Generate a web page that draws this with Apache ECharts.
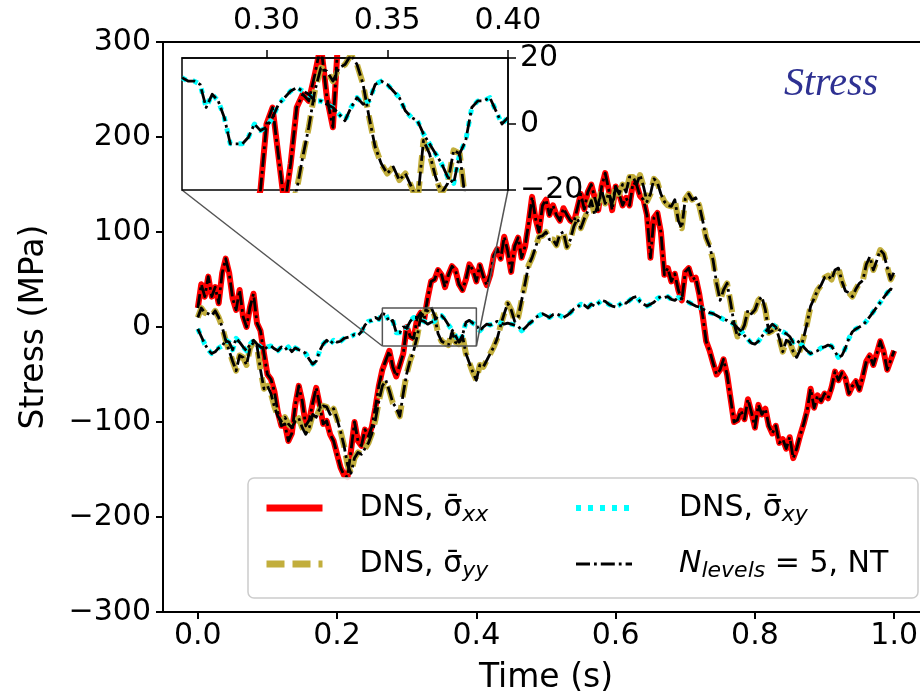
<!DOCTYPE html>
<html>
<head>
<meta charset="utf-8">
<script src="https://cdn.jsdelivr.net/npm/echarts@6/dist/echarts.min.js"></script>
<style>html,body{margin:0;padding:0;background:#fff}#c{width:920px;height:699px}</style>
</head>
<body>
<div id="c"></div>
<script>
// ---- data (main plot, sampled every 0.005 s from 0 to 1.0 s) ----
const timeStep = 0.005;
const sxx = [
 20, 45, 32, 53, 32, 42, 25, 57, 72, 57,
 30, 18, 39, 11, 0, 21, 35, 4, -4, -28,
 -50, -55, -68, -90, -104, -102, -120, -112, -82, -62,
 -78, -104, -98, -80, -64, -82, -102, -99, -113, -120,
 -134, -148, -156, -158, -130, -100, -120, -125, -108, -115,
 -105, -85, -62, -45, -35, -25, -42, -52, -40, -28,
 0, -10, -12, 9, 15, 8, 30, 48, 50, 60,
 55, 42, 55, 64, 60, 45, 39, 50, 66, 60,
 48, 65, 53, 44, 55, 75, 82, 72, 95, 80,
 58, 85, 94, 73, 85, 109, 137, 114, 100, 128,
 134, 118, 128, 118, 112, 125, 118, 112, 110, 125,
 140, 124, 142, 150, 136, 123, 148, 162, 145, 123,
 148, 140, 128, 136, 128, 152, 150, 138, 134, 118,
 73, 115, 120, 100, 55, 62, 48, 56, 39, 28,
 58, 62, 50, 52, 35, 12, -15, -25, -38, -50,
 -45, -34, -50, -75, -100, -98, -88, -97, -76, -90,
 -106, -82, -92, -86, -104, -112, -104, -122, -118, -128,
 -116, -138, -128, -114, -102, -88, -65, -85, -72, -78,
 -70, -75, -64, -47, -56, -48, -54, -70, -62, -57,
 -66, -52, -36, -30, -40, -28, -15, -26, -45, -35,
 -25
];
const syy = [
 10, 20, 15, 14, 12, 17, 10, 0, -14, -25,
 -36, -46, -30, -32, -40, -22, -16, -20, -45, -65,
 -62, -70, -84, -94, -99, -95, -102, -106, -99, -96,
 -106, -113, -106, -92, -95, -86, -83, -84, -92, -86,
 -97, -110, -125, -145, -154, -138, -132, -134, -128, -122,
 -112, -98, -78, -62, -56, -67, -80, -85, -94, -70,
 -49, -35, -25, -10, 10, 16, 17, 21, 12, -7,
 -15, -17, -19, -5, -16, -18, -9, -28, -38, -48,
 -56, -40, -42, -35, -28, -21, -12, 2, 14, 25,
 18, 6, 10, 28, 46, 65, 73, 84, 95, 96,
 100, 92, 92, 86, 98, 100, 84, 92, 106, 114,
 104, 114, 122, 133, 118, 130, 144, 130, 141, 130,
 148, 140, 150, 142, 158, 158, 150, 160, 148, 132,
 140, 156, 152, 140, 132, 128, 127, 134, 112, 104,
 135, 140, 134, 136, 128, 112, 94, 85, 70, 46,
 28, 39, 46, 26, 4, -10, -6, 2, 18, 14,
 18, 28, 32, 18, -6, -4, 0, -12, -26, -14,
 -16, -26, -32, -24, -11, 4, 22, 30, 39, 44,
 52, 54, 50, 60, 62, 48, 38, 36, 32, 40,
 46, 49, 66, 74, 60, 70, 81, 77, 63, 50,
 58
];
const sxy = [
 -2, -10, -18, -24, -28, -26, -22, -20, -14, -16,
 -24, -12, -16, -21, -25, -18, -14, -18, -21, -24,
 -21, -20, -23, -25, -21, -24, -21, -26, -22, -24,
 -25, -28, -34, -39, -36, -25, -18, -14, -18, -14,
 -16, -15, -12, -11, -10, -8, -9, -5, 2, 6,
 7, 10, 8, 14, 13, 5, 7, -6, -6, 0,
 -1, 6, 10, 10, 7, 6, 3, 5, 6, 12,
 12, 8, 2, -3, -9, -16, -9, 5, 7, 4,
 2, -4, 0, 3, 2, 4, 6, 4, 3, 4,
 3, 2, 1, -4, -1, 3, 6, 10, 12, 14,
 12, 10, 13, 14, 12, 10, 12, 15, 19, 21,
 24, 23, 20, 24, 22, 25, 28, 27, 24, 22,
 21, 23, 26, 25, 28, 31, 32, 27, 24, 22,
 24, 26, 30, 32, 31, 32, 29, 28, 31, 30,
 28, 26, 24, 22, 21, 19, 17, 15, 14, 12,
 10, 8, 7, 5, 3, -1, -4, -9, -13, -17,
 -18, -15, -10, -5, -1, 3, 0, -3, -5, -7,
 -10, -16, -14, -17, -21, -25, -28, -26, -25, -22,
 -21, -19, -20, -26, -32, -30, -22, -12, -5, -2,
 0, 2, 6, 11, 16, 21, 26, 31, 36, 40,
 38
];

// ---- data (inset, sampled every 0.0025 s from 0.265 to 0.40 s) ----
const insetStart = 0.265;
const insetStep = 0.0025;
const insetXX = [
 -45, -38, -35, -28, -25, -33, -42, -50, -52, -45,
 -40, -32, -28, -20, 0, 5, -10, -25, -12, 5,
 9, 7, 15, 24, 8, -1, 30, 45, 48, 50,
 50, 55, 60, 58, 55, 48, 42, 48, 55, 60,
 64, 62, 60, 52, 45, 42, 39, 45, 50, 58,
 66, 64, 60, 55, 48
];
const insetYY = [
 -62, -58, -56, -60, -67, -75, -80, -82, -85, -90,
 -94, -85, -70, -58, -49, -42, -35, -30, -25, -20,
 -10, -1, 10, 17, 16, 13, 17, 18, 21, 18,
 12, 2, -7, -12, -15, -13, -17, -15, -19, -24,
 -5, -9, -16, -21, -18, -8, -9, -24, -28, -32,
 -38, -42, -48, -52, -56
];
const insetXY = [
 14, 13, 13, 12, 5, 9, 7, 2, -6, -6,
 -6, -4, 0, -2, -1, 2, 6, 8, 10, 11,
 10, 9, 7, 7, 6, 5, 3, 1, 5, 8,
 6, 7, 12, 13, 12, 10, 8, 4, 2, 1,
 -3, -6, -9, -12, -16, -18, -9, -5, 5, 7,
 7, 8, 4, 0, 2
];

// ---- axes / ticks ----
const xTicks = [0.0, 0.2, 0.4, 0.6, 0.8, 1.0];
const xRange = [-0.05, 1.05];
const yRange = [-300, 300];
const yInterval = 100;
const insetXRange = [0.265, 0.40];
const insetYRange = [-20, 20];
const insetXTicks = [0.30, 0.35, 0.40];
const insetYInterval = 20;

const names = {
  xx: 'DNS, σ̄xx',
  yy: 'DNS, σ̄yy',
  xy: 'DNS, σ̄xy',
  nt: 'N_levels = 5, NT'
};

const mainTime = sxx.map((_, i) => +(i * timeStep).toFixed(4));
const insetTime = insetXX.map((_, i) => +(insetStart + i * insetStep).toFixed(4));
const pair = (ts, vs) => ts.map((t, i) => [t, vs[i]]);

const FONT = 'DejaVu Sans';
const minus = v => String(v).replace('-', '\u2212');

const styles = {
  xx: {color: '#ff0000', width: 6, type: 'solid'},
  yy: {color: '#c2ae3c', width: 6, type: [18, 8]},
  xy: {color: '#00ffff', width: 5, type: [5, 7]},
  nt: {color: '#000000', width: 2.8, type: [14, 4, 2.8, 4]}
};

function mk(name, key, data, axisIdx, z) {
  return {
    type: 'line', name: name, xAxisIndex: axisIdx, yAxisIndex: axisIdx,
    data: data, symbol: 'none', showSymbol: false, clip: true, z: z,
    color: styles[key].color,
    lineStyle: {color: styles[key].color, width: styles[key].width, type: styles[key].type, cap: 'butt', join: 'round'},
    emphasis: {disabled: true}, silent: true
  };
}

const series = [];
[[0, mainTime, sxx, syy, sxy, 2], [1, insetTime, insetXX, insetYY, insetXY, 8]].forEach(([ax, ts, a, b, c, z]) => {
  series.push(mk(names.xx, 'xx', pair(ts, a), ax, z));
  series.push(mk(names.yy, 'yy', pair(ts, b), ax, z));
  series.push(mk(names.xy, 'xy', pair(ts, c), ax, z));
  series.push(mk(names.nt, 'nt', pair(ts, a), ax, z + 1));
  series.push(mk(names.nt, 'nt', pair(ts, b), ax, z + 1));
  series.push(mk(names.nt, 'nt', pair(ts, c), ax, z + 1));
});
// zoom rectangle in the main axes
series.push({
  type: 'line', name: 'zoombox', xAxisIndex: 0, yAxisIndex: 0, symbol: 'none', silent: true, z: 4,
  lineStyle: {color: '#555555', width: 1.5},
  data: [[insetXRange[0], insetYRange[0]], [insetXRange[1], insetYRange[0]], [insetXRange[1], insetYRange[1]],
         [insetXRange[0], insetYRange[1]], [insetXRange[0], insetYRange[0]]]
});

const rich = {
  a: {fontFamily: FONT, fontSize: 30, lineHeight: 36, verticalAlign: 'middle', color: '#000'},
  s: {fontFamily: FONT, fontSize: 22, fontStyle: 'italic', lineHeight: 22, verticalAlign: 'bottom', color: '#000'},
  i: {fontFamily: FONT, fontSize: 30, fontStyle: 'italic', lineHeight: 36, verticalAlign: 'middle', color: '#000'}
};
const legendFmt = n => {
  if (n === names.xx) return '{a|DNS, σ̄}{s|xx}';
  if (n === names.yy) return '{a|DNS, σ̄}{s|yy}';
  if (n === names.xy) return '{a|DNS, σ̄}{s|xy}';
  return '{i|N}{s|levels}{a| = 5, NT}';
};
const legItem = key => ({
  name: names[key],
  itemStyle: {opacity: 0},
  lineStyle: {color: styles[key].color, width: key === 'nt' ? 2.8 : (key === 'xy' ? 6 : 7), type: styles[key].type, cap: 'butt'}
});
const legendBase = {
  orient: 'vertical', itemGap: 23, itemWidth: 56, itemHeight: 14, z: 60,
  selectedMode: false, formatter: legendFmt,
  itemStyle: {opacity: 0}
};

const axisLabelStyle = {fontFamily: FONT, fontSize: 30, color: '#000'};
const option = {
  animation: false,
  backgroundColor: '#ffffff',
  grid: [
    {left: 163, top: 42, width: 766, height: 570, show: true, borderColor: '#000', borderWidth: 2,
     backgroundColor: 'transparent', z: 0, containLabel: false, outerBoundsMode: 'none'},
    {left: 182, top: 58, width: 326, height: 132, show: true, borderColor: '#000', borderWidth: 1.5,
     backgroundColor: '#ffffff', z: 6, containLabel: false, outerBoundsMode: 'none'}
  ],
  xAxis: [
    {gridIndex: 0, type: 'value', min: xRange[0], max: xRange[1],
     name: 'Time (s)', nameLocation: 'middle', nameGap: 50,
     nameTextStyle: {fontFamily: FONT, fontSize: 33, color: '#000'},
     axisLine: {show: true, onZero: false, lineStyle: {color: '#000', width: 2}},
     axisTick: {show: true, length: 7, lineStyle: {color: '#000', width: 2}, customValues: xTicks},
     axisLabel: Object.assign({margin: 9, customValues: xTicks, formatter: v => v.toFixed(1)}, axisLabelStyle),
     splitLine: {show: false}},
    {gridIndex: 1, type: 'value', position: 'top', min: insetXRange[0], max: insetXRange[1], z: 9,
     axisLine: {show: true, onZero: false, lineStyle: {color: '#000', width: 1.5}},
     axisTick: {show: true, length: 8, lineStyle: {color: '#000', width: 1.5}, customValues: insetXTicks},
     axisLabel: Object.assign({margin: 22, customValues: insetXTicks, formatter: v => v.toFixed(2)}, axisLabelStyle),
     splitLine: {show: false}}
  ],
  yAxis: [
    {gridIndex: 0, type: 'value', min: yRange[0], max: yRange[1], interval: yInterval,
     name: 'Stress (MPa)', nameLocation: 'middle', nameGap: 112,
     nameTextStyle: {fontFamily: FONT, fontSize: 33, color: '#000'},
     axisLine: {show: true, onZero: false, lineStyle: {color: '#000', width: 2}},
     axisTick: {show: true, length: 7, lineStyle: {color: '#000', width: 2}},
     axisLabel: Object.assign({margin: 12, formatter: minus}, axisLabelStyle),
     splitLine: {show: false}},
    {gridIndex: 1, type: 'value', position: 'right', min: insetYRange[0], max: insetYRange[1], interval: insetYInterval, z: 9,
     axisLine: {show: true, onZero: false, lineStyle: {color: '#000', width: 1.5}},
     axisTick: {show: true, length: 8, lineStyle: {color: '#000', width: 1.5}},
     axisLabel: Object.assign({margin: 12, formatter: minus}, axisLabelStyle),
     splitLine: {show: false}}
  ],
  legend: [
    Object.assign({}, legendBase, {left: 258, top: 488, data: [legItem('xx'), legItem('yy')],
      textStyle: {rich: rich, padding: [0, 0, 0, 32]}}),
    Object.assign({}, legendBase, {left: 568, top: 488, data: [legItem('xy'), legItem('nt')],
      textStyle: {rich: rich, padding: [0, 0, 0, 42]}})
  ],
  series: series
};

const chart = echarts.init(document.getElementById('c'), null, {renderer: 'canvas'});
chart.setOption(option);

const pi = chart.convertToPixel({gridIndex: 1}, [insetXRange[0], insetYRange[0]]);
const pr = chart.convertToPixel({gridIndex: 0}, [insetXRange[0], insetYRange[0]]);
const qi = chart.convertToPixel({gridIndex: 1}, [insetXRange[1], insetYRange[0]]);
const qr = chart.convertToPixel({gridIndex: 0}, [insetXRange[1], insetYRange[0]]);

chart.setOption({
  graphic: [
    {type: 'line', z: 5, silent: true, shape: {x1: pi[0], y1: pi[1], x2: pr[0], y2: pr[1]}, style: {stroke: '#555555', lineWidth: 1.5}},
    {type: 'line', z: 5, silent: true, shape: {x1: qi[0], y1: qi[1], x2: qr[0], y2: qr[1]}, style: {stroke: '#555555', lineWidth: 1.5}},
    {type: 'rect', z: 50, silent: true, shape: {x: 248, y: 478, width: 670, height: 120, r: 6},
     style: {fill: 'rgba(255,255,255,0.85)', stroke: '#cccccc', lineWidth: 1.5}},
    {type: 'text', z: 50, silent: true, left: 784, top: 64,
     style: {text: 'Stress', font: 'italic 40px "Liberation Serif"', fill: '#2e3192'}}
  ]
});
</script>
</body>
</html>
